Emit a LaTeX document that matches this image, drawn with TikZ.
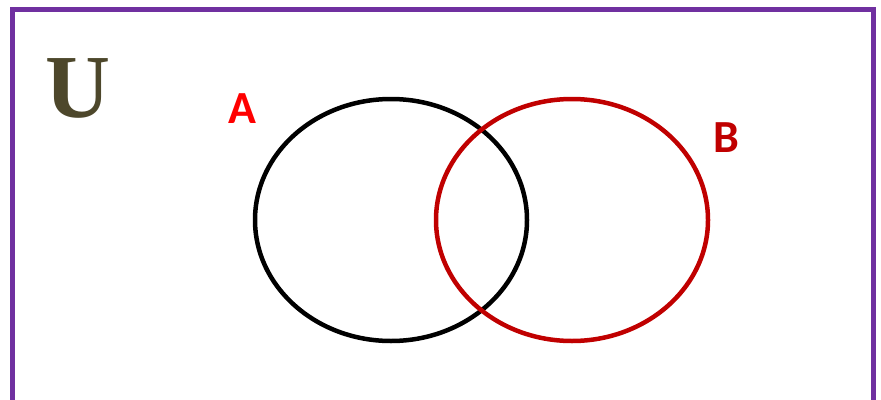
\documentclass[tikz,border=0pt]{standalone}
\usepackage{fontspec}
\setmainfont{Liberation Serif}
\newfontfamily\labelfont{Carlito}
\usetikzlibrary{shapes.geometric}
\definecolor{framepurple}{HTML}{7030A0}
\definecolor{setred}{HTML}{C00000}
\definecolor{uolive}{HTML}{4D472B}
\tikzset{
  setcircle/.style={draw, ellipse, line width=4.5pt, minimum width=272pt, minimum height=242pt, inner sep=0pt},
  setlabel/.style={inner sep=0pt, font=\labelfont\bfseries\fontsize{46}{46}\selectfont}
}
\begin{document}
\begin{tikzpicture}[x=1pt,y=-1pt]
\useasboundingbox (0,0) rectangle (881,399);
\clip (0,0) rectangle (881,399);
\draw[framepurple, line width=5pt] (12.5,430) -- (12.5,9.5) -- (873.5,9.5) -- (873.5,430);
\node[inner sep=0pt, text=uolive, font=\bfseries\fontsize{90}{90}\selectfont] (U) at (77.5,88) {U};
\node[setcircle, black] (setA) at (391,220) {};
\node[setcircle, setred] (setB) at (572,220) {};
\node[setlabel, text=red] (A) at (242.5,108.5) {A};
\node[setlabel, text=setred] (B) at (726.5,138) {B};
\end{tikzpicture}
\end{document}
